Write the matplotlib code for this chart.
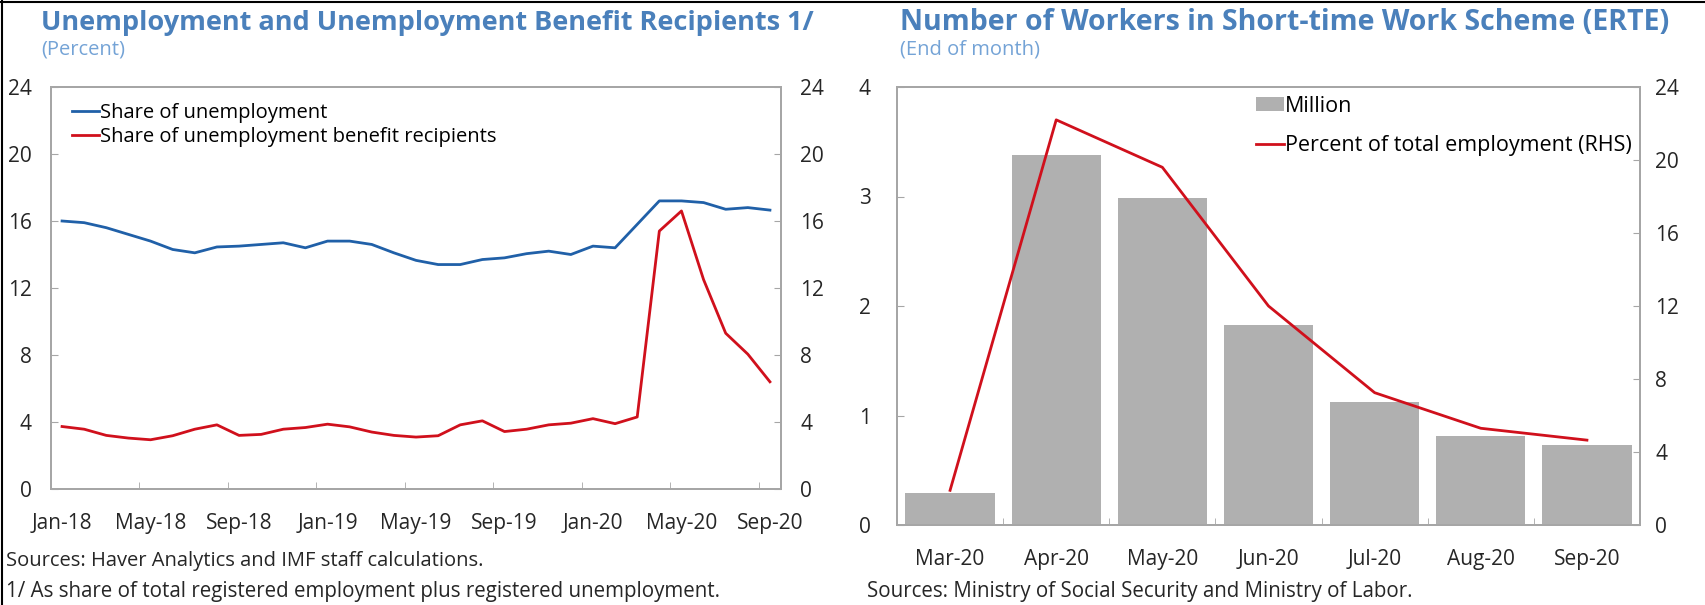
import numpy as np
import matplotlib.pyplot as plt
from matplotlib.lines import Line2D

plt.rcParams['font.family'] = ['Open Sans', 'DejaVu Sans']

# left panel: monthly, Jan-18 .. Sep-20
months = ['Jan-18', 'Feb-18', 'Mar-18', 'Apr-18', 'May-18', 'Jun-18', 'Jul-18', 'Aug-18',
          'Sep-18', 'Oct-18', 'Nov-18', 'Dec-18', 'Jan-19', 'Feb-19', 'Mar-19', 'Apr-19',
          'May-19', 'Jun-19', 'Jul-19', 'Aug-19', 'Sep-19', 'Oct-19', 'Nov-19', 'Dec-19',
          'Jan-20', 'Feb-20', 'Mar-20', 'Apr-20', 'May-20', 'Jun-20', 'Jul-20', 'Aug-20', 'Sep-20']
unemp_share = [16.0, 15.9, 15.6, 15.2, 14.8, 14.3, 14.1, 14.45, 14.5, 14.6, 14.7, 14.4,
               14.8, 14.8, 14.6, 14.1, 13.65, 13.4, 13.4, 13.7, 13.8, 14.05, 14.2, 14.0,
               14.5, 14.4, 15.8, 17.2, 17.2, 17.1, 16.7, 16.8, 16.65]
benefit_share = [3.73, 3.57, 3.2, 3.04, 2.94, 3.18, 3.57, 3.83, 3.2, 3.26, 3.57, 3.67,
                 3.87, 3.71, 3.4, 3.2, 3.1, 3.18, 3.83, 4.07, 3.43, 3.57, 3.83, 3.93,
                 4.2, 3.9, 4.3, 15.4, 16.6, 12.5, 9.3, 8.05, 6.4]

# right panel: ERTE
erte_months = ['Mar-20', 'Apr-20', 'May-20', 'Jun-20', 'Jul-20', 'Aug-20', 'Sep-20']
erte_million = [0.29, 3.38, 2.99, 1.83, 1.12, 0.81, 0.73]
erte_pct = [1.9, 22.2, 19.6, 12.0, 7.25, 5.3, 4.65]

W, H = 1706, 605
blue_title = '#4a80bb'
blue_sub = '#74a3d6'
line_blue = '#2060a8'
line_red = '#d0101c'
grey = '#a6a6a6'
txt = '#262626'
fs = 15

fig = plt.figure(figsize=(W / 100, H / 100), dpi=100)


def box(l, t, r, b):
    return [l / W, 1 - b / H, (r - l) / W, (b - t) / H]


def style(ax):
    for s in ax.spines.values():
        s.set_color(grey)
        s.set_linewidth(1.3)


# ---- left panel ----
ax1 = fig.add_axes(box(51, 87, 781, 489))
x = np.arange(len(months))
ax1.plot(x, unemp_share, color=line_blue, lw=2, label='Share of unemployment')
ax1.plot(x, benefit_share, color=line_red, lw=2, label='Share of unemployment benefit recipients')
ax1.set_xlim(-0.5, len(months) - 0.5)
ax1.set_ylim(0, 24)
ax1.set_yticks(range(0, 25, 4))
ax1.set_xticks(x[::4])
ax1.set_xticklabels(months[::4])
ax1.set_xticks(np.arange(3.5, len(months) - 1, 4), minor=True)
ax1.tick_params(axis='x', which='major', length=0, pad=17, labelsize=fs, colors=txt)
ax1.tick_params(axis='x', which='minor', direction='in', length=5, color=grey)
ax1.tick_params(axis='y', direction='in', length=5, color=grey, pad=14, labelsize=fs, labelcolor=txt)
ax1r = ax1.twinx()
ax1r.set_ylim(0, 24)
ax1r.set_yticks(range(0, 25, 4))
ax1r.tick_params(axis='y', direction='in', length=5, color=grey, pad=14, labelsize=fs, labelcolor=txt)
style(ax1)
style(ax1r)
ax1.legend(loc='upper left', bbox_to_anchor=(0.01, 0.995), frameon=False, fontsize=14.5,
           handlelength=1.3, handletextpad=0.05, labelspacing=0.2, borderaxespad=0.3)

# ---- right panel ----
ax2 = fig.add_axes(box(897, 87, 1640, 525))
xe = np.arange(len(erte_months))
ax2.bar(xe, erte_million, width=0.84, color='#b0b0b0', label='Million')
ax2.set_xlim(-0.5, len(erte_months) - 0.5)
ax2.set_ylim(0, 4)
ax2.set_yticks(range(0, 5))
ax2.set_xticks(xe)
ax2.set_xticklabels(erte_months)
ax2.set_xticks(np.arange(0.5, len(erte_months) - 1, 1), minor=True)
ax2.tick_params(axis='x', which='major', length=0, pad=17, labelsize=fs, colors=txt)
ax2.tick_params(axis='x', which='minor', direction='in', length=5, color=grey)
ax2.tick_params(axis='y', direction='in', length=5, color=grey, pad=19, labelsize=fs, labelcolor=txt)
ax2r = ax2.twinx()
ax2r.plot(xe, erte_pct, color=line_red, lw=2, label='Percent of total employment (RHS)')
ax2r.set_ylim(0, 24)
ax2r.set_yticks(range(0, 25, 4))
ax2r.tick_params(axis='y', direction='in', length=5, color=grey, pad=11, labelsize=fs, labelcolor=txt)
style(ax2)
style(ax2r)
h1, l1 = ax2.get_legend_handles_labels()
h2, l2 = ax2r.get_legend_handles_labels()
ax2r.legend(h1 + h2, l1 + l2, loc='upper right', bbox_to_anchor=(1.0, 1.0), frameon=False,
            fontsize=15.5, handlelength=1.3, handleheight=0.6, handletextpad=0.05,
            labelspacing=0.85, borderaxespad=0.1, borderpad=0.3)

# ---- titles and notes ----
fig.text(41 / W, 1 - 23 / H, 'Unemployment and Unemployment Benefit Recipients 1/',
         color=blue_title, fontsize=19.5, fontweight='bold', va='center')
fig.text(41 / W, 1 - 50 / H, '(Percent)', color=blue_sub, fontsize=14.5, va='center')
fig.text(900 / W, 1 - 23 / H, 'Number of Workers in Short-time Work Scheme (ERTE)',
         color=blue_title, fontsize=20.5, fontweight='bold', va='center')
fig.text(900 / W, 1 - 50 / H, '(End of month)', color=blue_sub, fontsize=14.5, va='center')
fig.text(6 / W, 1 - 561 / H, 'Sources: Haver Analytics and IMF staff calculations.',
         color=txt, fontsize=14.5, va='center')
fig.text(6 / W, 1 - 591 / H, '1/ As share of total registered employment plus registered unemployment.',
         color=txt, fontsize=14.8, va='center')
fig.text(867 / W, 1 - 591 / H, 'Sources: Ministry of Social Security and Ministry of Labor.',
         color=txt, fontsize=14.8, va='center')

# frame lines at top and left
fig.add_artist(Line2D([0, 1], [1 - 1.5 / H] * 2, color='black', lw=1.5))
fig.add_artist(Line2D([2 / W] * 2, [0, 1], color='black', lw=1.5))

fig.savefig('out.png', dpi=100)
